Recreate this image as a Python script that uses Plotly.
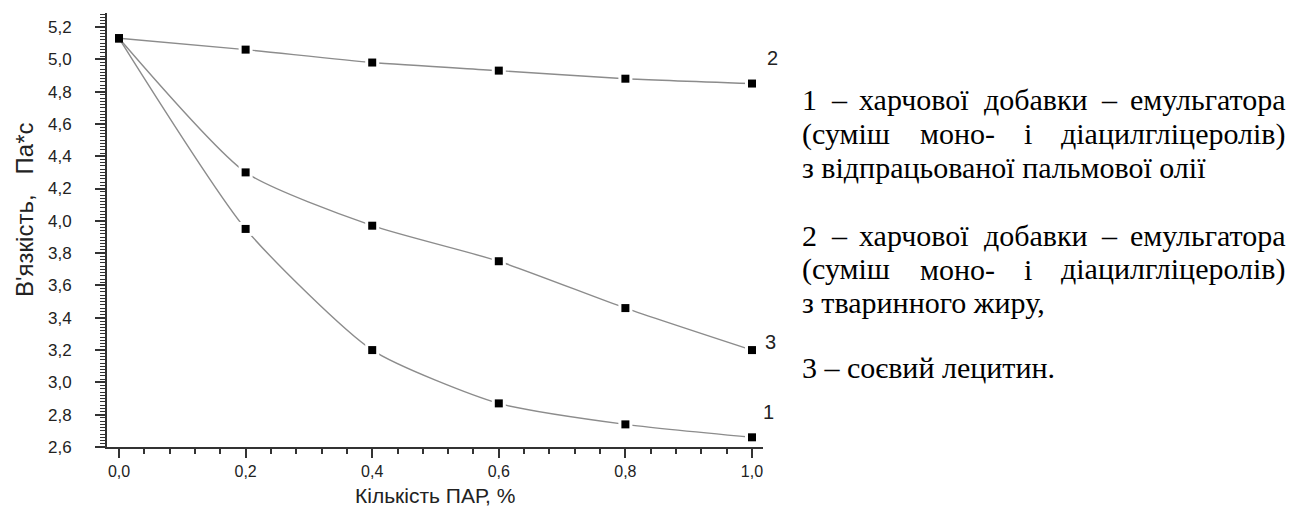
import plotly.graph_objects as go

# ---- data ----
x_par = [0.0, 0.2, 0.4, 0.6, 0.8, 1.0]
visc_1 = [5.13, 3.95, 3.20, 2.87, 2.74, 2.66]
visc_2 = [5.13, 5.06, 4.98, 4.93, 4.88, 4.85]
visc_3 = [5.13, 4.30, 3.97, 3.75, 3.46, 3.20]
series_labels = ["1", "2", "3"]
x_tick_vals = [0.0, 0.2, 0.4, 0.6, 0.8, 1.0]
y_tick_vals = [2.6, 2.8, 3.0, 3.2, 3.4, 3.6, 3.8, 4.0, 4.2, 4.4, 4.6, 4.8, 5.0, 5.2]

x_title = "Кількість ПАР, %"
y_title = "В'язкість,\u00a0\u00a0\u00a0Па*с"

# (text, justified?)
legend_lines = [
    ("1 – харчової добавки – емульгатора", True),
    ("(суміш моно- і діацилгліцеролів)", True),
    ("з відпрацьованої пальмової олії", False),
    ("2 – харчової добавки – емульгатора", True),
    ("(суміш моно- і діацилгліцеролів)", True),
    ("з тваринного жиру,", False),
    ("3 – соєвий лецитин.", False),
]

# ---- layout geometry ----
# page body has a default 8px margin: figure is drawn offset by 8px, so size it
# to fill the remaining window and express targets in screen pixels.
OFF = 8
W, H = 1295 - OFF, 518 - OFF
# screen-pixel plot box
SL, SR, ST, SB = 107, 763, 13, 447
L, R, T, B = SL - OFF, SR - OFF, ST - OFF, SB - OFF


def px(xscreen):
    return (xscreen - OFF - L) / (R - L)


def py(yscreen):
    return (B - (yscreen - OFF)) / (B - T)


# approximate Times New Roman advance widths (1/1000 em) for justification
TNR = {
    "0": 500, "1": 500, "2": 500, "3": 500, "(": 333, ")": 333, "-": 333, "–": 500,
    ",": 250, ".": 250, " ": 250,
    "а": 444, "б": 509, "в": 472, "г": 410, "д": 509, "е": 444, "є": 444, "ж": 691,
    "з": 395, "и": 535, "й": 535, "к": 486, "л": 499, "м": 633, "н": 535, "о": 500,
    "п": 535, "р": 500, "с": 444, "т": 437, "у": 500, "ф": 648, "х": 500, "ц": 535,
    "ч": 503, "ш": 770, "щ": 770, "ь": 456, "ю": 727, "я": 482, "і": 278, "ї": 278,
}


def word_width(w, size):
    return sum(TNR.get(c, 500) for c in w) * size / 1000.0


LINE_COLOR = "#8c8c8c"
AX_COLOR = "#333333"
SANS = "Arial, Liberation Sans, sans-serif"
SERIF = "Times New Roman, Liberation Serif, serif"
TXT_SIZE = 30

fig = go.Figure()

for ys in (visc_1, visc_2, visc_3):
    fig.add_trace(go.Scatter(
        x=x_par, y=ys, mode="lines",
        line=dict(color=LINE_COLOR, width=1.4, shape="spline", smoothing=0.6),
        hoverinfo="skip", showlegend=False, cliponaxis=False))
# white halos around markers (gap in line)
for ys in (visc_1, visc_2, visc_3):
    fig.add_trace(go.Scatter(
        x=x_par[1:], y=ys[1:], mode="markers",
        marker=dict(symbol="square", size=14, color="white"),
        hoverinfo="skip", showlegend=False, cliponaxis=False))
for ys in (visc_1, visc_2, visc_3):
    fig.add_trace(go.Scatter(
        x=x_par, y=ys, mode="markers",
        marker=dict(symbol="square", size=8, color="black"),
        showlegend=False, cliponaxis=False))

# curve number labels (screen pixels)
label_pix = {"1": (768, 412), "2": (772, 58), "3": (770, 342)}
for lab in series_labels:
    xpix, ypix = label_pix[lab]
    fig.add_annotation(x=px(xpix), y=py(ypix), xref="paper", yref="paper",
                       text=lab, showarrow=False, xanchor="center", yanchor="middle",
                       font=dict(family=SANS, size=20, color="#222"))

# right-hand text block (justified lines placed word by word)
line_y = [100, 134, 168, 235, 269, 302, 367]
left_edge, right_edge = 801, 1287
for (text, justified), ypix in zip(legend_lines, line_y):
    if not justified:
        fig.add_annotation(x=px(left_edge), y=py(ypix), xref="paper", yref="paper",
                           text=text, showarrow=False, xanchor="left", yanchor="middle",
                           borderpad=0,
                           font=dict(family=SERIF, size=TXT_SIZE, color="black"))
        continue
    words = text.split(" ")
    widths = [word_width(w, TXT_SIZE) for w in words]
    gap = (right_edge - left_edge - sum(widths)) / (len(words) - 1)
    xcur = left_edge
    for i, (w, ww) in enumerate(zip(words, widths)):
        last = i == len(words) - 1
        fig.add_annotation(x=px(right_edge if last else xcur), y=py(ypix),
                           xref="paper", yref="paper",
                           text=w, showarrow=False,
                           xanchor="right" if last else "left", yanchor="middle",
                           borderpad=0,
                           font=dict(family=SERIF, size=TXT_SIZE, color="black"))
        xcur += ww + gap

# axis titles as annotations
fig.add_annotation(x=px(24), y=py(210), xref="paper", yref="paper", text=y_title,
                   textangle=-90, showarrow=False, xanchor="center", yanchor="middle",
                   font=dict(family=SANS, size=24, color="#222"))
fig.add_annotation(x=px(435), y=py(496), xref="paper", yref="paper", text=x_title,
                   showarrow=False, xanchor="center", yanchor="middle",
                   font=dict(family=SANS, size=21, color="#222"))

fig.update_layout(
    width=W, height=H,
    margin=dict(l=L, r=W - R, t=T, b=H - B, pad=0),
    paper_bgcolor="white", plot_bgcolor="white",
    separators=", ",
    xaxis=dict(
        range=[-0.019, 1.0174], showgrid=False, zeroline=False,
        showline=True, linecolor=AX_COLOR, linewidth=2,
        tickmode="array", tickvals=x_tick_vals, tickformat=".1f",
        ticks="outside", ticklen=9, tickwidth=2, tickcolor=AX_COLOR,
        ticklabelstandoff=0,
        minor=dict(dtick=0.04, tick0=0, ticks="outside", ticklen=5, tickwidth=1.5, tickcolor=AX_COLOR),
        tickfont=dict(family=SANS, size=16, color="#222"),
    ),
    yaxis=dict(
        range=[2.6, 5.2867], showgrid=False, zeroline=False,
        showline=True, linecolor=AX_COLOR, linewidth=2,
        tickmode="array", tickvals=y_tick_vals, tickformat=".1f",
        ticks="outside", ticklen=10, tickwidth=2, tickcolor=AX_COLOR,
        ticklabelstandoff=20,
        minor=dict(dtick=0.02, tick0=2.6, ticks="outside", ticklen=5, tickwidth=1.2, tickcolor=AX_COLOR),
        tickfont=dict(family=SANS, size=17, color="#222"),
    ),
)

fig.write_html("out.html")
